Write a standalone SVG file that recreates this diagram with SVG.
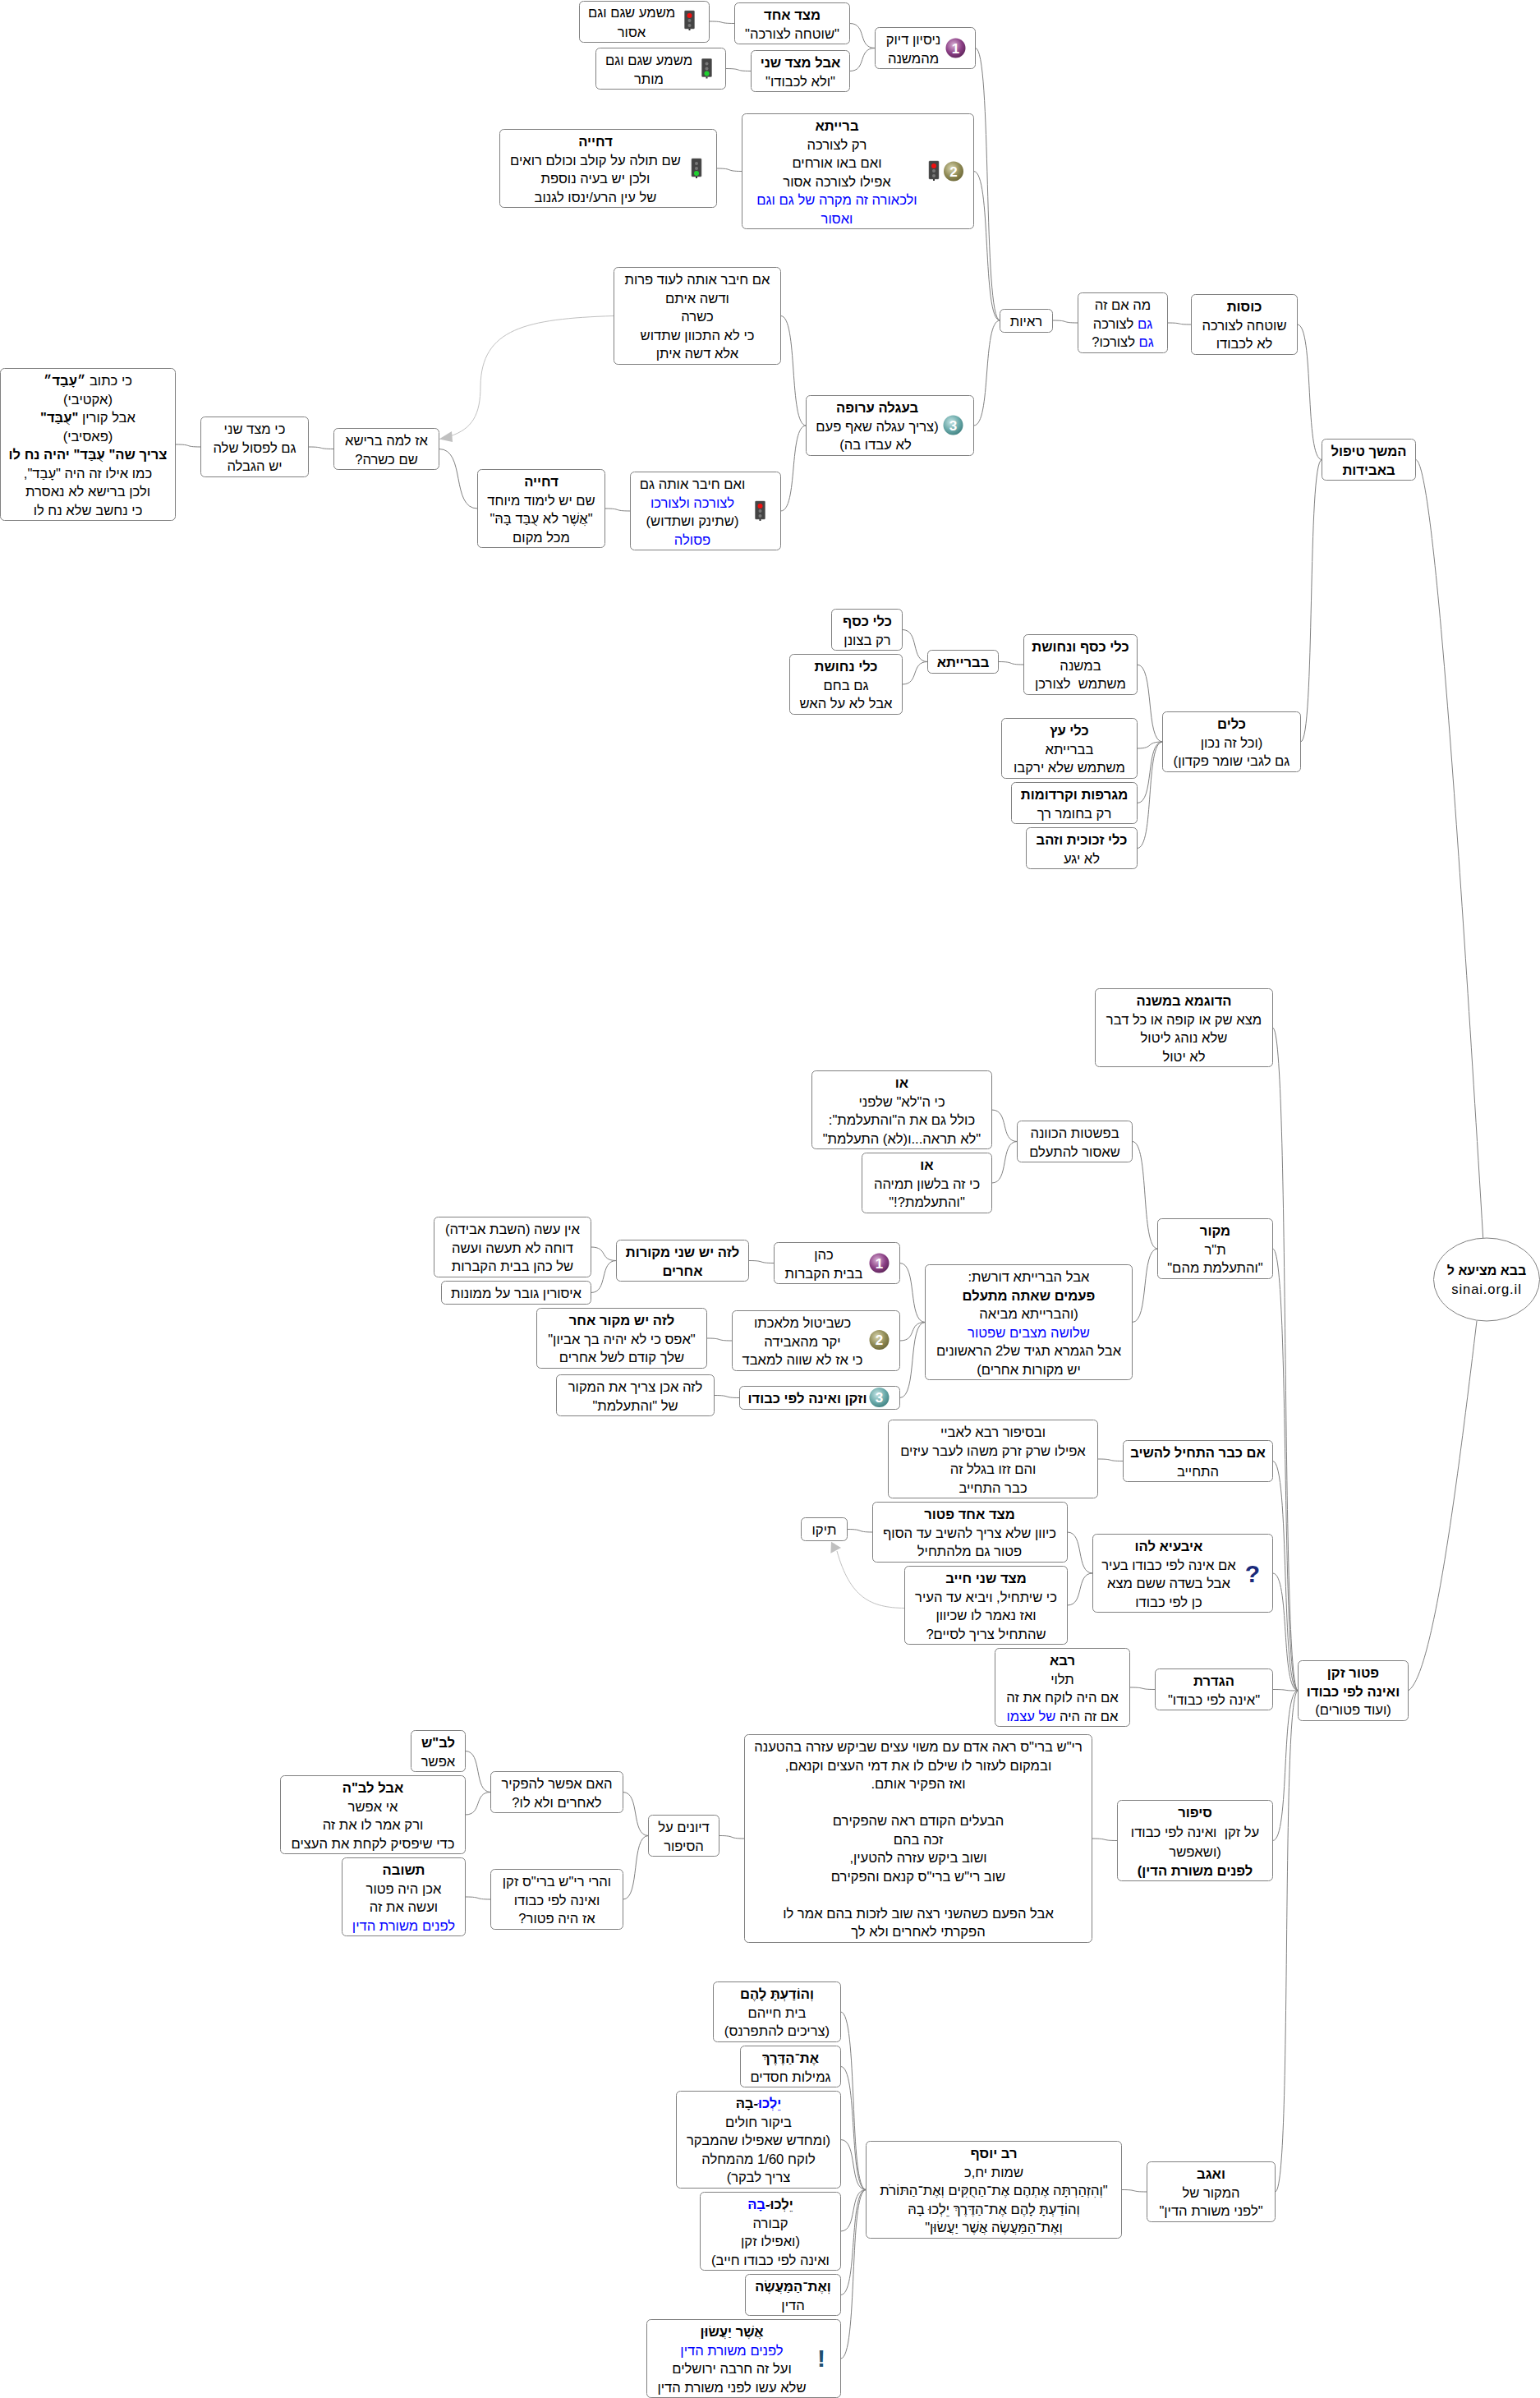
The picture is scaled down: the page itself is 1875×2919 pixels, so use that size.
<svg xmlns="http://www.w3.org/2000/svg" width="1875" height="2919" viewBox="0 0 1875 2919">
<style>
rect.n{fill:#fff;stroke:#808080;stroke-width:1}
ellipse.n{fill:#fff;stroke:#808080;stroke-width:1}
text{font-family:"Liberation Sans",Arial,sans-serif;font-size:16.6px;fill:#000;text-anchor:middle;direction:rtl}
.b{font-weight:bold}
.u{fill:#0000ff}
.num{font-size:17px;font-weight:bold;fill:#fff;direction:ltr}
#edges path{fill:none;stroke:#808080;stroke-width:1}
#edges path.link{stroke:#c0c0c0}
polygon.ah{fill:#c0c0c0;stroke:none}
.tlb{fill:#444;stroke:#666;stroke-width:.5}
.off{fill:#777}
</style>
<defs>
<radialGradient id="g1" cx=".4" cy=".35" r=".7"><stop offset="0" stop-color="#d9b0d4"/><stop offset=".6" stop-color="#8b3f85"/><stop offset="1" stop-color="#5c2458"/></radialGradient>
<radialGradient id="g2" cx=".4" cy=".35" r=".7"><stop offset="0" stop-color="#d9d6b0"/><stop offset=".6" stop-color="#8f8a55"/><stop offset="1" stop-color="#6b6636"/></radialGradient>
<radialGradient id="g3" cx=".4" cy=".35" r=".7"><stop offset="0" stop-color="#c5e4e4"/><stop offset=".6" stop-color="#6aa9a9"/><stop offset="1" stop-color="#3e8080"/></radialGradient>
<g id="tlr"><rect class="tlb" x="-6" y="-12" width="12" height="22" rx="1"/><rect x="-1" y="10" width="2" height="2" fill="#333"/><circle cy="-6" r="3" fill="#f01010"/><circle cy="0" r="2" class="off"/><circle cy="6" r="2" class="off"/></g>
<g id="tlg"><rect class="tlb" x="-6" y="-12" width="12" height="22" rx="1"/><rect x="-1" y="10" width="2" height="2" fill="#333"/><circle cy="-6" r="2" class="off"/><circle cy="0" r="2" class="off"/><circle cy="6" r="3" fill="#20d030"/></g>
</defs>
<g id="edges">
<path d="M863.5,26C885.5,26 872.5,28.5 894.5,28.5"/>
<path d="M883.5,83.5C905,83.5 892.5,86.5 914,86.5"/>
<path d="M1034.5,28.5C1056,28.5 1043.5,58.5 1065.5,58.5"/>
<path d="M1034.5,86.5C1056,86.5 1043.5,58.5 1065.5,58.5"/>
<path d="M1187.5,58.5C1208,58.5 1196.5,390 1217.5,390"/>
<path d="M872.5,205C894.5,205 881.5,208.5 903.5,208.5"/>
<path d="M1185.5,208.5C1207.5,208.5 1195.5,390 1217.5,390"/>
<path d="M1185.5,518C1207.5,518 1195.5,390 1217.5,390"/>
<path d="M950.5,384.5C972,384.5 960,518 981.5,518"/>
<path d="M950.5,622C972,622 960,518 981.5,518"/>
<path d="M736.5,619C758,619 745.5,622 767.5,622"/>
<path d="M534.5,546.5C567.5,546.5 548.5,619 581.5,619"/>
<path d="M375.5,544C397,544 384.5,546.5 406.5,546.5"/>
<path d="M213.5,541C235.5,541 223,544 244.5,544"/>
<path d="M1281.5,390C1303,390 1290.5,393 1312.5,393"/>
<path d="M1421.5,393C1441.5,393 1430,395 1450.5,395"/>
<path d="M1579.5,395C1600.5,395 1588,559.5 1609.5,559.5"/>
<path d="M1583.5,903C1601.5,903 1591.5,559.5 1609.5,559.5"/>
<path d="M1723.5,559.5C1745,559.5 1775,1000 1805.7,1507"/>
<path d="M1714.5,2058C1745,2040 1775,1800 1798,1608"/>
<path d="M1549.5,1251C1571,1251 1559,2058 1580.5,2058"/>
<path d="M1549.5,1520C1571,1520 1559,2058 1580.5,2058"/>
<path d="M1549.5,1778.5C1571,1778.5 1559,2058 1580.5,2058"/>
<path d="M1549.5,1915C1571,1915 1559,2058 1580.5,2058"/>
<path d="M1549.5,2056.5C1571,2056.5 1559,2058 1580.5,2058"/>
<path d="M1549.5,2240.5C1571,2240.5 1559,2058 1580.5,2058"/>
<path d="M1552.5,2668C1574,2668 1559,2058 1580.5,2058"/>
<path d="M1378.5,1389.5C1400,1389.5 1388,1520 1409.5,1520"/>
<path d="M1378.5,1609.5C1400,1609.5 1388,1520 1409.5,1520"/>
<path d="M1207.5,1351C1229.5,1351 1217,1389.5 1238.5,1389.5"/>
<path d="M1207.5,1440C1229.5,1440 1217,1389.5 1238.5,1389.5"/>
<path d="M1095.5,1537.5C1117.5,1537.5 1104.5,1609.5 1126.5,1609.5"/>
<path d="M1095.5,1632C1117.5,1632 1104.5,1609.5 1126.5,1609.5"/>
<path d="M1095.5,1701.5C1117.5,1701.5 1104.5,1609.5 1126.5,1609.5"/>
<path d="M911.5,1534.5C933,1534.5 921,1537.5 942.5,1537.5"/>
<path d="M719.5,1518C741,1518 729,1534.5 750.5,1534.5"/>
<path d="M719.5,1573.5C741,1573.5 729,1534.5 750.5,1534.5"/>
<path d="M860.5,1629C882,1629 869.5,1632 891.5,1632"/>
<path d="M869.5,1698.5C891,1698.5 879,1701.5 900.5,1701.5"/>
<path d="M1336.5,1776C1358,1776 1345.5,1778.5 1367.5,1778.5"/>
<path d="M1299.5,1865C1321,1865 1309,1915 1330.5,1915"/>
<path d="M1299.5,1954C1321,1954 1309,1915 1330.5,1915"/>
<path d="M1031.5,1861.5C1053,1861.5 1041,1865 1062.5,1865"/>
<path d="M1375.5,2054C1397,2054 1385,2056.5 1406.5,2056.5"/>
<path d="M1329.5,2238C1351,2238 1339,2240.5 1360.5,2240.5"/>
<path d="M875.5,2234.5C897,2234.5 885,2238 906.5,2238"/>
<path d="M758.5,2181.5C780,2181.5 767.5,2234.5 789.5,2234.5"/>
<path d="M758.5,2312C780,2312 767.5,2234.5 789.5,2234.5"/>
<path d="M566.5,2131.5C588,2131.5 576,2181.5 597.5,2181.5"/>
<path d="M566.5,2209C588,2209 576,2181.5 597.5,2181.5"/>
<path d="M566.5,2309C588,2309 576,2312 597.5,2312"/>
<path d="M1365.5,2665.5C1387,2665.5 1374.5,2668 1396.5,2668"/>
<path d="M1023.5,2449C1045,2449 1033,2665.5 1054.5,2665.5"/>
<path d="M1023.5,2515.5C1045,2515.5 1033,2665.5 1054.5,2665.5"/>
<path d="M1023.5,2604.5C1045,2604.5 1033,2665.5 1054.5,2665.5"/>
<path d="M1023.5,2716C1045,2716 1033,2665.5 1054.5,2665.5"/>
<path d="M1023.5,2793.5C1045,2793.5 1033,2665.5 1054.5,2665.5"/>
<path d="M1023.5,2871C1045,2871 1033,2665.5 1054.5,2665.5"/>
<path d="M1384.5,809C1406,809 1394,903 1415.5,903"/>
<path d="M1384.5,911C1406,911 1394,903 1415.5,903"/>
<path d="M1384.5,977.5C1406,977.5 1394,903 1415.5,903"/>
<path d="M1384.5,1032.5C1406,1032.5 1394,903 1415.5,903"/>
<path d="M1215.5,805.5C1237,805.5 1224.5,809 1246.5,809"/>
<path d="M1098.5,766.5C1120,766.5 1108,805.5 1129.5,805.5"/>
<path d="M1098.5,833C1120,833 1108,805.5 1129.5,805.5"/>
<path class="link" d="M747.5,384.5C640,388 586,400 585,470C585,505 575,522 548,531"/>
<polygon class="ah" points="534.6,534.5 550,525 551,538"/>
<path class="link" d="M1101.5,1957.5C1060,1957 1035,1945 1019,1888"/>
<polygon class="ah" points="1012,1876.7 1024,1884 1011.4,1890.7"/>
</g>
<g id="root"><ellipse class="n" cx="1810" cy="1557.5" rx="64.5" ry="50.5"/><text class="b" x="1810" y="1552" style="font-size:16px">בבא מציעא ל</text><text x="1810" y="1575" style="letter-spacing:.9px">sinai.org.il</text></g>
<g id="n1"><rect class="n" x="1609.5" y="534.5" width="114" height="50" rx="5"/><text class="b" x="1666.5" y="555">המשך טיפול</text><text class="b" x="1666.5" y="577.5">באבידות</text></g>
<g id="n2"><rect class="n" x="1450.5" y="358.5" width="129" height="73" rx="5"/><text class="b" x="1515" y="379">כוסות</text><text x="1515" y="401.5">שוטחה לצורכה</text><text x="1515" y="424">לא לכבודו</text></g>
<g id="n3"><rect class="n" x="1312.5" y="356.5" width="109" height="73" rx="5"/><text x="1367" y="377">מה אם זה</text><text x="1367" y="399.5"><tspan class="u">גם</tspan> לצורכה</text><text x="1367" y="422"><tspan class="u">גם</tspan> לצורכו?</text></g>
<g id="n4"><rect class="n" x="1217.5" y="376.5" width="64" height="28" rx="5"/><text x="1249.5" y="397">ראיות</text></g>
<g id="n5"><rect class="n" x="1065.5" y="33.5" width="122" height="50" rx="5"/><text x="1112" y="54">ניסיון דיוק</text><text x="1112" y="76.5">מהמשנה</text><circle cx="1163.5" cy="58.5" r="12" fill="url(#g1)"/><text class="num" x="1163.5" y="64.5">1</text></g>
<g id="n6"><rect class="n" x="894.5" y="3.5" width="140" height="50" rx="5"/><text class="b" x="964.5" y="24">מצד אחד</text><text x="964.5" y="46.5">"שוטחה לצורכה"</text></g>
<g id="n7"><rect class="n" x="705.5" y="1.5" width="158" height="50" rx="5"/><text x="769" y="21">משמע שגם וגם</text><text x="769" y="44.5">אסור</text><use href="#tlr" x="839.5" y="25"/></g>
<g id="n8"><rect class="n" x="914.5" y="61.5" width="120" height="50" rx="5"/><text class="b" x="974.5" y="82">אבל מצד שני</text><text x="974.5" y="104.5">"ולא לכבודו"</text></g>
<g id="n9"><rect class="n" x="725.5" y="58.5" width="158" height="50" rx="5"/><text x="790" y="79">משמע שגם וגם</text><text x="790" y="101.5">מותר</text><use href="#tlg" x="860.5" y="83.5"/></g>
<g id="n10"><rect class="n" x="903.5" y="138.5" width="282" height="140" rx="5"/><text class="b" x="1019" y="159">ברייתא</text><text x="1019" y="181.5">רק לצורכה</text><text x="1019" y="204">ואם באו אורחים</text><text x="1019" y="226.5">אפילו לצורכה אסור</text><text class="u" x="1019" y="249">ולכאורה זה מקרה של גם וגם</text><text class="u" x="1019" y="271.5">ואסור</text><use href="#tlr" x="1137" y="208"/><circle cx="1161" cy="208.5" r="12" fill="url(#g2)"/><text class="num" x="1161" y="214.5">2</text></g>
<g id="n11"><rect class="n" x="608.5" y="157.5" width="264" height="95" rx="5"/><text class="b" x="725" y="178">דחייה</text><text x="725" y="200.5">שם תולה על קולב וכולם רואים</text><text x="725" y="223">ולכן יש בעיה נוספת</text><text x="725" y="245.5">של עין הרע/ינסו לגנוב</text><use href="#tlg" x="848" y="205"/></g>
<g id="n12"><rect class="n" x="981.5" y="481.5" width="204" height="73" rx="5"/><text class="b" x="1068" y="502">בעגלה ערופה</text><text x="1068" y="524.5">(צריך עגלה שאף פעם</text><text x="1066" y="547">לא עבדו בה)</text><circle cx="1160.5" cy="517.5" r="12" fill="url(#g3)"/><text class="num" x="1160.5" y="523.5">3</text></g>
<g id="n13"><rect class="n" x="747.5" y="325.5" width="203" height="118" rx="5"/><text x="849" y="346">אם חיבר אותה לעוד פרות</text><text x="849" y="368.5">ודשה איתם</text><text x="849" y="391">כשרה</text><text x="849" y="413.5">כי לא התכוון שתדוש</text><text x="849" y="436">אלא דשה איתן</text></g>
<g id="n14"><rect class="n" x="767.5" y="574.5" width="183" height="95" rx="5"/><text x="843" y="595">ואם חיבר אותה גם</text><text class="u" x="843" y="617.5">לצורכה ולצורכו</text><text x="843" y="640">(שתינק ושתדוש)</text><text class="u" x="843" y="662.5">פסולה</text><use href="#tlr" x="925.5" y="622"/></g>
<g id="n15"><rect class="n" x="581.5" y="571.5" width="155" height="95" rx="5"/><text class="b" x="659" y="592">דחייה</text><text x="659" y="614.5">שם יש לימוד מיוחד</text><text x="659" y="637">"אֲשֶׁר לא עֻבַּד בָּהּ"</text><text x="659" y="659.5">מכל מקום</text></g>
<g id="n16"><rect class="n" x="406.5" y="521.5" width="128" height="50" rx="5"/><text x="470.5" y="542">אז למה ברישא</text><text x="470.5" y="564.5">שם כשרה?</text></g>
<g id="n17"><rect class="n" x="244.5" y="507.5" width="131" height="73" rx="5"/><text x="310" y="528">כי מצד שני</text><text x="310" y="550.5">גם לפסול שלה</text><text x="310" y="573">יש הגבלה</text></g>
<g id="n18"><rect class="n" x="0.5" y="448.5" width="213" height="185" rx="5"/><text x="107" y="469">כי כתוב <tspan class="b">״עָבַד״</tspan></text><text x="107" y="491.5">(אקטיבי)</text><text x="107" y="514">אבל קורין <tspan class="b">"עֻבַּד"</tspan></text><text x="107" y="536.5">(פאסיבי)</text><text class="b" x="107" y="559">צריך שה" עֻבַּד" יהיה נח לו</text><text x="107" y="581.5">כמו אילו זה היה "עָבַד",</text><text x="107" y="604">ולכן ברישא לא נאסרת</text><text x="107" y="626.5">כי נחשב שלא נח לו</text></g>
<g id="n19"><rect class="n" x="1415.5" y="866.5" width="168" height="73" rx="5"/><text class="b" x="1499.5" y="887">כלים</text><text x="1499.5" y="909.5">(וכל זה נכון</text><text x="1499.5" y="932">גם לגבי שומר פקדון)</text></g>
<g id="n20"><rect class="n" x="1246.5" y="772.5" width="138" height="73" rx="5"/><text class="b" x="1315.5" y="793">כלי כסף ונחושת</text><text x="1315.5" y="815.5">במשנה</text><text x="1315.5" y="838" xml:space="preserve">משתמש  לצורכן</text></g>
<g id="n21"><rect class="n" x="1129.5" y="791.5" width="86" height="28" rx="5"/><text class="b" x="1172.5" y="812">בברייתא</text></g>
<g id="n22"><rect class="n" x="1012.5" y="741.5" width="86" height="50" rx="5"/><text class="b" x="1056" y="762">כלי כסף</text><text x="1056" y="784.5">רק בצונן</text></g>
<g id="n23"><rect class="n" x="961.5" y="796.5" width="137" height="73" rx="5"/><text class="b" x="1030" y="817">כלי נחושת</text><text x="1030" y="839.5">גם בחם</text><text x="1030" y="862">אבל לא על האש</text></g>
<g id="n24"><rect class="n" x="1219.5" y="874.5" width="165" height="73" rx="5"/><text class="b" x="1302" y="895">כלי עץ</text><text x="1302" y="917.5">בברייתא</text><text x="1302" y="940">משתמש שלא ירקבו</text></g>
<g id="n25"><rect class="n" x="1231.5" y="952.5" width="153" height="50" rx="5"/><text class="b" x="1308" y="973">מגרפות וקרדומות</text><text x="1308" y="995.5">רק בחומר רך</text></g>
<g id="n26"><rect class="n" x="1249.5" y="1007.5" width="135" height="50" rx="5"/><text class="b" x="1317" y="1028">כלי זכוכית וזהב</text><text x="1317" y="1050.5">לא יגע</text></g>
<g id="n27"><rect class="n" x="1580.5" y="2021.5" width="134" height="73" rx="5"/><text class="b" x="1647.5" y="2042">פטור זקן</text><text class="b" x="1647.5" y="2064.5">ואינה לפי כבודו</text><text x="1647.5" y="2087">(ועוד פטורים)</text></g>
<g id="n28"><rect class="n" x="1333.5" y="1203.5" width="216" height="95" rx="5"/><text class="b" x="1441.5" y="1224">הדוגמא במשנה</text><text x="1441.5" y="1246.5">מצא שק או קופה או כל דבר</text><text x="1441.5" y="1269">שלא נוהג ליטול</text><text x="1441.5" y="1291.5">לא יטול</text></g>
<g id="n29"><rect class="n" x="1409.5" y="1483.5" width="140" height="73" rx="5"/><text class="b" x="1479.5" y="1504">מקור</text><text x="1479.5" y="1526.5">ת"ר</text><text x="1479.5" y="1549">"והתעלמת מהם"</text></g>
<g id="n30"><rect class="n" x="1238.5" y="1364.5" width="140" height="50" rx="5"/><text x="1308.5" y="1385">בפשטות הכוונה</text><text x="1308.5" y="1407.5">שאסור להתעלם</text></g>
<g id="n31"><rect class="n" x="988.5" y="1303.5" width="219" height="95" rx="5"/><text class="b" x="1098" y="1324">או</text><text x="1098" y="1346.5">כי ה"לא" שלפני</text><text x="1098" y="1369">כולל גם את ה"והתעלמת":</text><text x="1098" y="1391.5">"לא תראה...ו(לא) התעלמת"</text></g>
<g id="n32"><rect class="n" x="1049.5" y="1403.5" width="158" height="73" rx="5"/><text class="b" x="1128.5" y="1424">או</text><text x="1128.5" y="1446.5">כי זה בלשון תמיהה</text><text x="1128.5" y="1469">"והתעלמת?!"</text></g>
<g id="n33"><rect class="n" x="1126.5" y="1539.5" width="252" height="140" rx="5"/><text x="1252.5" y="1560">אבל הברייתא דורשת:</text><text class="b" x="1252.5" y="1582.5">פעמים שאתה מתעלם</text><text x="1252.5" y="1605">(והברייתא מביאה</text><text class="u" x="1252.5" y="1627.5">שלושה מצבים שפטור</text><text x="1252.5" y="1650">אבל הגמרא תגיד של2 הראשונים</text><text x="1252.5" y="1672.5">יש מקורות אחרים)</text></g>
<g id="n34"><rect class="n" x="942.5" y="1512.5" width="153" height="50" rx="5"/><text x="1003" y="1533">כהן</text><text x="1003" y="1555.5">בבית הקברות</text><circle cx="1070.5" cy="1537.5" r="12" fill="url(#g1)"/><text class="num" x="1070.5" y="1543.5">1</text></g>
<g id="n35"><rect class="n" x="750.5" y="1509.5" width="161" height="50" rx="5"/><text class="b" x="831" y="1530">לזה יש שני מקורות</text><text class="b" x="831" y="1552.5">אחרים</text></g>
<g id="n36"><rect class="n" x="528.5" y="1481.5" width="191" height="73" rx="5"/><text x="624" y="1502">אין עשה (השבת אבידה)</text><text x="624" y="1524.5">דוחה לא תעשה ועשה</text><text x="624" y="1547">של כהן בבית הקברות</text></g>
<g id="n37"><rect class="n" x="537.5" y="1559.5" width="182" height="28" rx="5"/><text x="628.5" y="1580">איסורין גובר על ממונות</text></g>
<g id="n38"><rect class="n" x="891.5" y="1595.5" width="204" height="73" rx="5"/><text x="977" y="1616">כשביטול מלאכתו</text><text x="977" y="1638.5">יקר מהאבידה</text><text x="977" y="1661">כי אז לא שווה למאבד</text><circle cx="1070.5" cy="1631" r="12" fill="url(#g2)"/><text class="num" x="1070.5" y="1637">2</text></g>
<g id="n39"><rect class="n" x="653.5" y="1592.5" width="207" height="73" rx="5"/><text class="b" x="757" y="1613">לזה יש מקור אחר</text><text x="757" y="1635.5">"אפס כי לא יהיה בך אביון"</text><text x="757" y="1658">שלך קודם לשל אחרים</text></g>
<g id="n40"><rect class="n" x="900.5" y="1687.5" width="195" height="28" rx="5"/><text class="b" x="983" y="1708">וזקן ואינה לפי כבודו</text><circle cx="1070.5" cy="1701" r="12" fill="url(#g3)"/><text class="num" x="1070.5" y="1707">3</text></g>
<g id="n41"><rect class="n" x="677.5" y="1673.5" width="192" height="50" rx="5"/><text x="773.5" y="1694">לזה אכן צריך את המקור</text><text x="773.5" y="1716.5">של "והתעלמת"</text></g>
<g id="n42"><rect class="n" x="1367.5" y="1753.5" width="182" height="50" rx="5"/><text class="b" x="1458.5" y="1774">אם כבר התחיל להשיב</text><text x="1458.5" y="1796.5">התחייב</text></g>
<g id="n43"><rect class="n" x="1081.5" y="1728.5" width="255" height="95" rx="5"/><text x="1209" y="1749">ובסיפור רבא לאביי</text><text x="1209" y="1771.5">אפילו שרק זרק משהו לעבר עיזים</text><text x="1209" y="1794">והם זזו בגלל זה</text><text x="1209" y="1816.5">כבר התחייב</text></g>
<g id="n44"><rect class="n" x="1330.5" y="1867.5" width="219" height="95" rx="5"/><text class="b" x="1423" y="1888">איבעיא להו</text><text x="1423" y="1910.5">אם אינה לפי כבודו בעיר</text><text x="1423" y="1933">אבל בשדה ששם מצא</text><text x="1423" y="1955.5">כן לפי כבודו</text><text x="1525" y="1926" style="font-size:30px;font-weight:bold;fill:#1a2a7a">?</text></g>
<g id="n45"><rect class="n" x="1062.5" y="1828.5" width="237" height="73" rx="5"/><text class="b" x="1180.5" y="1849">מצד אחד פטור</text><text x="1180.5" y="1871.5">כיוון שלא צריך להשיב עד הסוף</text><text x="1180.5" y="1894">פטור גם מלהתחיל</text></g>
<g id="n46"><rect class="n" x="975.5" y="1847.5" width="56" height="28" rx="5"/><text x="1003.5" y="1868">תיקו</text></g>
<g id="n47"><rect class="n" x="1101.5" y="1906.5" width="198" height="95" rx="5"/><text class="b" x="1200.5" y="1927">מצד שני חייב</text><text x="1200.5" y="1949.5">כי שיתחיל, ויביא עד העיר</text><text x="1200.5" y="1972">ואז נאמר לו שכיוון</text><text x="1200.5" y="1994.5">שהתחיל צריך לסיים?</text></g>
<g id="n48"><rect class="n" x="1406.5" y="2031.5" width="143" height="50" rx="5"/><text class="b" x="1478" y="2052">הגדרת</text><text x="1478" y="2074.5">"אינה לפי כבודו"</text></g>
<g id="n49"><rect class="n" x="1211.5" y="2006.5" width="164" height="95" rx="5"/><text class="b" x="1293.5" y="2027">רבא</text><text x="1293.5" y="2049.5">תלוי</text><text x="1293.5" y="2072">אם היה לוקח את זה</text><text x="1293.5" y="2094.5">אם זה היה <tspan class="u">של עצמו</tspan></text></g>
<g id="n50"><rect class="n" x="1360.5" y="2191.5" width="189" height="98" rx="5"/><text class="b" x="1455" y="2212">סיפור</text><text x="1455" y="2236" xml:space="preserve">על זקן  ואינה לפי כבודו</text><text x="1455" y="2260">(ושאפשר</text><text class="b" x="1455" y="2283">לפנים משורת הדין)</text></g>
<g id="n51"><rect class="n" x="906.5" y="2111.5" width="423" height="253" rx="5"/><text x="1118" y="2132">רי"ש ברי"ס ראה אדם עם משוי עצים שביקש עזרה בהטענה</text><text x="1118" y="2154.5">ובמקום לעזור לו שילם לו את דמי העצים וקנאם,</text><text x="1118" y="2177">ואז הפקיר אותם.</text><text x="1118" y="2222">הבעלים הקודם ראה שהפקירם</text><text x="1118" y="2244.5">זכה בהם</text><text x="1118" y="2267">ושוב ביקש עזרה להטעין,</text><text x="1118" y="2289.5">שוב רי"ש ברי"ס קנאם והפקירם</text><text x="1118" y="2334.5">אבל הפעם כשהשני רצה שוב לזכות בהם אמר לו</text><text x="1118" y="2357">הפקרתי לאחרים ולא לך</text></g>
<g id="n52"><rect class="n" x="789.5" y="2209.5" width="86" height="50" rx="5"/><text x="832.5" y="2230">דיונים על</text><text x="832.5" y="2252.5">הסיפור</text></g>
<g id="n53"><rect class="n" x="597.5" y="2156.5" width="161" height="50" rx="5"/><text x="678" y="2177">האם אפשר להפקיר</text><text x="678" y="2199.5">לאחרים ולא לו?</text></g>
<g id="n54"><rect class="n" x="597.5" y="2275.5" width="161" height="73" rx="5"/><text x="678" y="2296">והרי רי"ש ברי"ס זקן</text><text x="678" y="2318.5">ואינה לפי כבודו</text><text x="678" y="2341">אז היה פטור?</text></g>
<g id="n55"><rect class="n" x="500.5" y="2106.5" width="66" height="50" rx="5"/><text class="b" x="533.5" y="2127">לב"ש</text><text x="533.5" y="2149.5">אפשר</text></g>
<g id="n56"><rect class="n" x="341.5" y="2161.5" width="225" height="95" rx="5"/><text class="b" x="454" y="2182">אבל לב"ה</text><text x="454" y="2204.5">אי אפשר</text><text x="454" y="2227">ורק אמר לו את זה</text><text x="454" y="2249.5">כדי שיפסיק לקחת את העצים</text></g>
<g id="n57"><rect class="n" x="416.5" y="2261.5" width="150" height="95" rx="5"/><text class="b" x="491.5" y="2282">תשובה</text><text x="491.5" y="2304.5">אכן היה פטור</text><text x="491.5" y="2327">ועשה את זה</text><text class="u" x="491.5" y="2349.5">לפנים משורת הדין</text></g>
<g id="n58"><rect class="n" x="1396.5" y="2631.5" width="156" height="73" rx="5"/><text class="b" x="1474.5" y="2652">ואגב</text><text x="1474.5" y="2674.5">המקור של</text><text x="1474.5" y="2697">"לפני משורת הדין"</text></g>
<g id="n59"><rect class="n" x="1054.5" y="2606.5" width="311" height="118" rx="5"/><text class="b" x="1210" y="2627">רב יוסף</text><text x="1210" y="2649.5">שמות יח,כ</text><text x="1210" y="2672">"וְהִזְהַרְתָּה אֶתְהֶם אֶת־הַחֻקִּים וְאֶת־הַתּוֹרֹת</text><text x="1210" y="2694.5">וְהוֹדַעְתָּ לָהֶם אֶת־הַדֶּרֶךְ יֵלְכוּ בָהּ</text><text x="1210" y="2717">וְאֶת־הַמַּעֲשֶׂה אֲשֶׁר יַעֲשׂוּן"</text></g>
<g id="n60"><rect class="n" x="868.5" y="2412.5" width="155" height="73" rx="5"/><text class="b" x="946" y="2433">וְהוֹדַעְתָּ לָהֶם</text><text x="946" y="2455.5">בית חייהם</text><text x="946" y="2478">(צריכים להתפרנס)</text></g>
<g id="n61"><rect class="n" x="901.5" y="2490.5" width="122" height="50" rx="5"/><text class="b" x="962.5" y="2511">אֶת־הַדֶּרֶךְ</text><text x="962.5" y="2533.5">גמילות חסדים</text></g>
<g id="n62"><rect class="n" x="823.5" y="2545.5" width="200" height="118" rx="5"/><text class="b" x="923.5" y="2566"><tspan class="u">יֵלְכוּ</tspan>-בָהּ</text><text x="923.5" y="2588.5">ביקור חולים</text><text x="923.5" y="2611">(ומחדש שאפילו שהמבקר</text><text x="923.5" y="2633.5">לוקח 1/60 מהמחלה</text><text x="923.5" y="2656">צריך לבקר)</text></g>
<g id="n63"><rect class="n" x="852.5" y="2668.5" width="171" height="95" rx="5"/><text class="b" x="938" y="2689">יֵלְכוּ-<tspan class="u">בָהּ</tspan></text><text x="938" y="2711.5">קבורה</text><text x="938" y="2734">(ואפילו זקן</text><text x="938" y="2756.5">ואינה לפי כבודו חייב)</text></g>
<g id="n64"><rect class="n" x="907.5" y="2768.5" width="116" height="50" rx="5"/><text class="b" x="965.5" y="2789">וְאֶת־הַמַּעֲשֶׂה</text><text x="965.5" y="2811.5">הדין</text></g>
<g id="n65"><rect class="n" x="787.5" y="2823.5" width="236" height="95" rx="5"/><text class="b" x="891" y="2844">אֲשֶׁר יַעֲשׂוּן</text><text class="u" x="891" y="2866.5">לפנים משורת הדין</text><text x="891" y="2889">ועל זה חרבה ירושלים</text><text x="891" y="2911.5">שלא עשו לפני משורת הדין</text><text x="1000" y="2881" style="font-size:30px;font-weight:bold;fill:#1e5070">!</text></g>
</svg>
